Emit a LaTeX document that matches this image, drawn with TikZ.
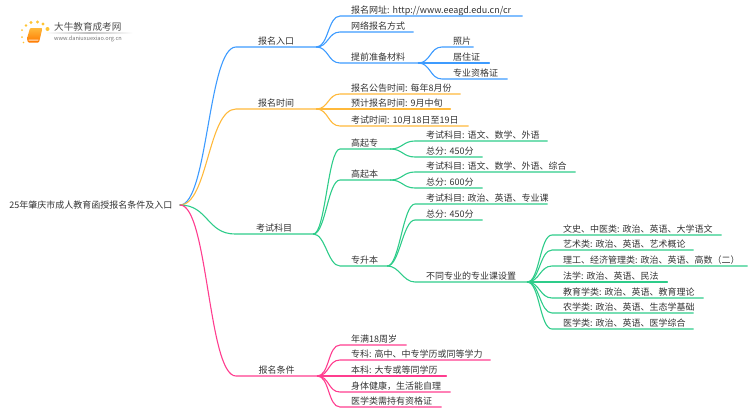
\documentclass[tikz,border=0pt]{standalone}
\usepackage{fontspec}
\setmainfont{Noto Sans CJK SC}
\definecolor{mapblue}{HTML}{3D9BFF}
\definecolor{maporange}{HTML}{FFB93B}
\definecolor{mapgreen}{HTML}{2ECC8A}
\definecolor{mappink}{HTML}{FF3D8F}
\definecolor{maptext}{HTML}{333333}
\tikzset{
  topic/.style={anchor=south west,inner xsep=0pt,inner ysep=1pt,text height=8pt,text depth=1pt,font=\fontsize{9}{10}\selectfont\frenchspacing,text=maptext},
  leaf/.style={topic,text width=#1,align=left,execute at begin node=\hspace*{11pt}\hbox\bgroup,execute at end node=\egroup},
  wire/.style={line width=1.1pt,line cap=round},
}
\begin{document}
\begin{tikzpicture}[x=1pt,y=-1pt]
\useasboundingbox (0,0) rectangle (750,410);
% logo
\foreach \px/\py/\pr in {22/30/1,22/37/1,23.5/42.5/.9,26/25.5/1.3,31/22.5/1.6,37.5/22/1.7,43/24/1.7,47.5/29/2}
  \fill[maporange!85!yellow] (\px,\py) circle (\pr);
\shade[top color=maporange,bottom color=orange!95!red,rounded corners=1pt] (30,28) -- (42.5,28) -- (39,42.5) -- (28,42.5) -- (27,38.5) -- cycle;
\fill[white,opacity=.8] (28.5,39.5) -- (38.5,39.5) -- (38.2,40.6) -- (28.5,40.6) -- cycle;
\shade[left color=white,right color=white,middle color=black!25] (45,32.8) rectangle (133,33.4);
\node[inner sep=0pt,anchor=west,text=black!70,font=\fontsize{9.6}{10}\selectfont] (logotitle) at (54,27) {大牛教育成考网};
\node[inner sep=0pt,anchor=west,text=black!55,font=\fontsize{5.6}{6}\selectfont] (logourl) at (54,38.5) {www.daniuxuexiao.org.cn};
% root
\node[topic,anchor=east,minimum width=178pt] (root) at (180,205) {25年肇庆市成人教育函授报名条件及入口};
% main branches
\node[topic,minimum width=80pt] (entry) at (236,47) {报名入口};
\node[topic,minimum width=80pt] (period) at (236,109) {报名时间};
\node[topic,minimum width=78pt] (subject) at (235,234) {考试科目};
\node[topic,minimum width=81pt] (cond) at (236,376) {报名条件};
% entry
\node[leaf=182pt] (site) at (340,16) {报名网址: http://www.eeagd.edu.cn/cr};
\node[leaf=73pt] (online) at (340,32) {网络报名方式};
\node[leaf=78pt] (prep) at (340,63) {提前准备材料};
\node[leaf=31pt] (photo) at (442,47) {照片};
\node[leaf=47pt] (resid) at (442,63) {居住证};
\node[leaf=65pt] (qual) at (442,79) {专业资格证};
% period
\node[leaf=120pt] (notice) at (340,94) {报名公告时间: 每年8月份};
\node[leaf=110pt] (expect) at (340,109) {预计报名时间: 9月中旬};
\node[leaf=128pt] (exam) at (340,126) {考试时间: 10月18日至19日};
% subject
\node[leaf=50pt] (gqz) at (340,149) {高起专};
\node[leaf=50pt] (gqb) at (340,180) {高起本};
\node[leaf=47pt] (zsb) at (340,266) {专升本};
\node[leaf=132pt] (gqzsub) at (415,141) {考试科目: 语文、数学、外语};
\node[leaf=67pt] (gqzsum) at (415,157) {总分: 450分};
\node[leaf=160pt] (gqbsub) at (415,172) {考试科目: 语文、数学、外语、综合};
\node[leaf=67pt] (gqbsum) at (415,188) {总分: 600分};
\node[leaf=132pt] (zsbsub) at (415,204) {考试科目: 政治、英语、专业课};
\node[leaf=67pt] (zsbsum) at (415,220) {总分: 450分};
\node[leaf=112pt] (major) at (415,282) {不同专业的专业课设置};
% major
\node[leaf=169pt] (mwen) at (552,235) {文史、中医类: 政治、英语、大学语文};
\node[leaf=141pt] (myi) at (552,250) {艺术类: 政治、英语、艺术概论};
\node[leaf=195pt] (mli) at (552,266) {理工、经济管理类: 政治、英语、高数（二）};
\node[leaf=115pt] (mfa) at (552,282) {法学: 政治、英语、民法};
\node[leaf=151pt] (mjiao) at (552,298) {教育学类: 政治、英语、教育理论};
\node[leaf=141pt] (mnong) at (552,313) {农学类: 政治、英语、生态学基础};
\node[leaf=141pt] (mmed) at (552,329) {医学类: 政治、英语、医学综合};
% cond
\node[leaf=66pt] (age) at (340,345) {年满18周岁};
\node[leaf=150pt] (zhuan) at (340,360) {专科: 高中、中专学历或同等学力};
\node[leaf=106pt] (ben) at (340,376) {本科: 大专或等同学历};
\node[leaf=110pt] (body) at (340,392) {身体健康，生活能自理};
\node[leaf=101pt] (medcert) at (340,407) {医学类需持有资格证};
% connectors
\foreach \src/\dst/\col in {root/entry/mapblue,root/period/maporange,root/subject/mapgreen,root/cond/mappink}
  \draw[wire,\col] (\src.east) .. controls +(28,0) and +(-28,0) .. (\dst.south west) -- (\dst.south east);
\foreach \src/\dst/\col in {entry/site/mapblue,entry/online/mapblue,entry/prep/mapblue,
  prep/photo/mapblue,prep/resid/mapblue,prep/qual/mapblue,
  period/notice/maporange,period/expect/maporange,period/exam/maporange,
  subject/gqz/mapgreen,subject/gqb/mapgreen,subject/zsb/mapgreen,
  gqz/gqzsub/mapgreen,gqz/gqzsum/mapgreen,gqb/gqbsub/mapgreen,gqb/gqbsum/mapgreen,
  zsb/zsbsub/mapgreen,zsb/zsbsum/mapgreen,zsb/major/mapgreen,
  major/mwen/mapgreen,major/myi/mapgreen,major/mli/mapgreen,major/mfa/mapgreen,major/mjiao/mapgreen,major/mnong/mapgreen,major/mmed/mapgreen,
  cond/age/mappink,cond/zhuan/mappink,cond/ben/mappink,cond/body/mappink,cond/medcert/mappink}
  \draw[wire,\col] (\src.south east) .. controls +(12,0) and +(-12,0) .. (\dst.south west) -- (\dst.south east);
\end{tikzpicture}
\end{document}
